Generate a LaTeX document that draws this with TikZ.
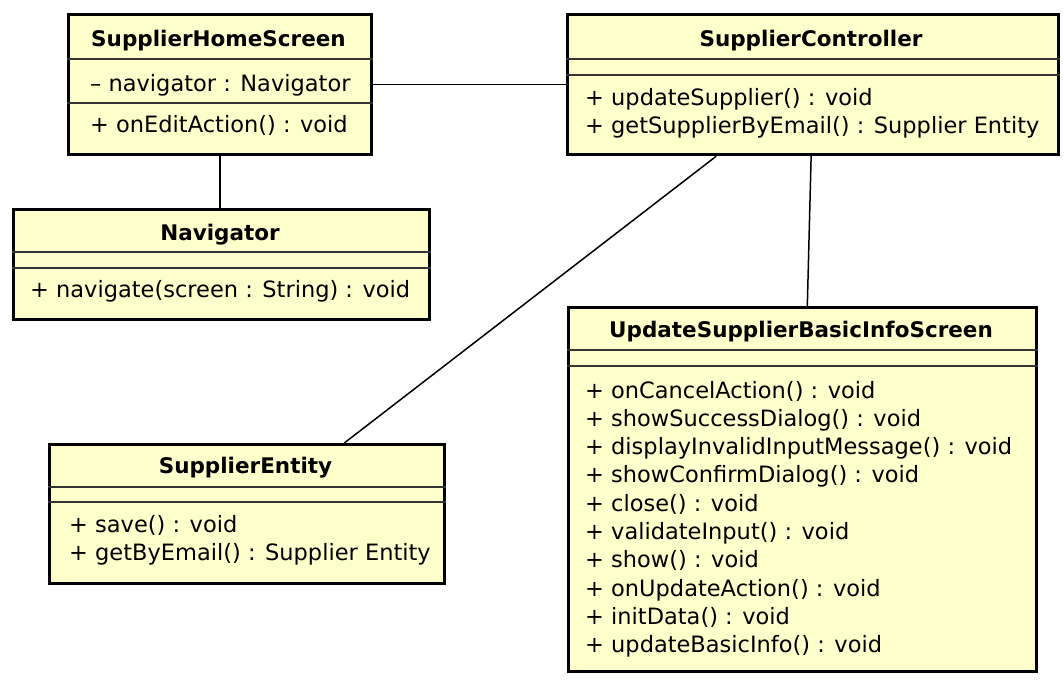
\documentclass[tikz,border=0pt]{standalone}
\usepackage{fontspec}
\setmainfont{DejaVu Sans}
\usetikzlibrary{calc}
\definecolor{umlfill}{HTML}{FFFFCC}
\tikzset{
  umlbox/.style={draw=black, line width=3.2pt, fill=umlfill, anchor=north west, inner sep=0pt},
  sepline/.style={draw=black!80, line width=1.2pt},
  conn/.style={draw=black, line width=1.5pt},
  titletext/.style={anchor=base, inner sep=0pt, font=\fontsize{21.5}{25}\selectfont\bfseries},
  membertext/.style={anchor=base west, inner sep=0pt, font=\fontsize{22.5}{27}\selectfont},
}
\begin{document}
\begin{tikzpicture}[x=1pt,y=-1pt]
\useasboundingbox (0,0) rectangle (1064,686);
% SupplierHomeScreen
\node[umlbox, minimum width=303pt, minimum height=140pt] (home) at (67,13) {};
\draw[sepline] (home.west |- 0,59) -- (home.east |- 0,59);
\draw[sepline] (home.west |- 0,103) -- (home.east |- 0,103);
\node[titletext] (homet) at (218.5,46) {SupplierHomeScreen};
\node[membertext] (homea) at (90,91) {– navigator : Navigator};
\node[membertext] (homem) at (90,132) {+ onEditAction() : void};
% SupplierController
\node[umlbox, minimum width=491pt, minimum height=140pt] (ctrl) at (566,13) {};
\draw[sepline] (ctrl.west |- 0,59) -- (ctrl.east |- 0,59);
\draw[sepline] (ctrl.west |- 0,75) -- (ctrl.east |- 0,75);
\node[titletext] (ctrlt) at (811,46) {SupplierController};
\node[membertext] (ctrlm1) at (585,105) {+ updateSupplier() : void};
\node[membertext] (ctrlm2) at (585,133) {+ getSupplierByEmail() : Supplier Entity};
% Navigator
\node[umlbox, minimum width=416pt, minimum height=110pt] (nav) at (12,208) {};
\draw[sepline] (nav.west |- 0,252) -- (nav.east |- 0,252);
\draw[sepline] (nav.west |- 0,268) -- (nav.east |- 0,268);
\node[titletext] (navt) at (220,240) {Navigator};
\node[membertext] (navm) at (30,297) {+ navigate(screen : String) : void};
% SupplierEntity
\node[umlbox, minimum width=395pt, minimum height=139pt] (ent) at (48,443) {};
\draw[sepline] (ent.west |- 0,487) -- (ent.east |- 0,487);
\draw[sepline] (ent.west |- 0,502) -- (ent.east |- 0,502);
\node[titletext] (entt) at (245.5,473) {SupplierEntity};
\node[membertext] (entm1) at (69,532) {+ save() : void};
\node[membertext] (entm2) at (69,560) {+ getByEmail() : Supplier Entity};
% UpdateSupplierBasicInfoScreen
\node[umlbox, minimum width=468pt, minimum height=364pt] (upd) at (567,306) {};
\draw[sepline] (upd.west |- 0,350) -- (upd.east |- 0,350);
\draw[sepline] (upd.west |- 0,366) -- (upd.east |- 0,366);
\node[titletext] (updt) at (801,337) {UpdateSupplierBasicInfoScreen};
\foreach \t [count=\i from 0] in {%
  {+ onCancelAction() : void},
  {+ showSuccessDialog() : void},
  {+ displayInvalidInputMessage() : void},
  {+ showConfirmDialog() : void},
  {+ close() : void},
  {+ validateInput() : void},
  {+ show() : void},
  {+ onUpdateAction() : void},
  {+ initData() : void},
  {+ updateBasicInfo() : void}}
  \node[membertext] (updm\i) at (585,398+28.3*\i) {\t};
% connectors
\draw[conn] (home.east) -- (ctrl.west);
\draw[conn] (home.south) -- (home.south |- nav.north);
\coordinate (ctrlA) at ($(ctrl.south west)!0.304!(ctrl.south east)$);
\coordinate (entA) at ($(ent.north west)!0.744!(ent.north east)$);
\draw[conn] (ctrlA) -- (entA);
\coordinate (ctrlB) at ($(ctrl.south west)!0.496!(ctrl.south east)$);
\coordinate (updB) at ($(upd.north west)!0.51!(upd.north east)$);
\draw[conn] (ctrlB) -- (updB);
\end{tikzpicture}
\end{document}
